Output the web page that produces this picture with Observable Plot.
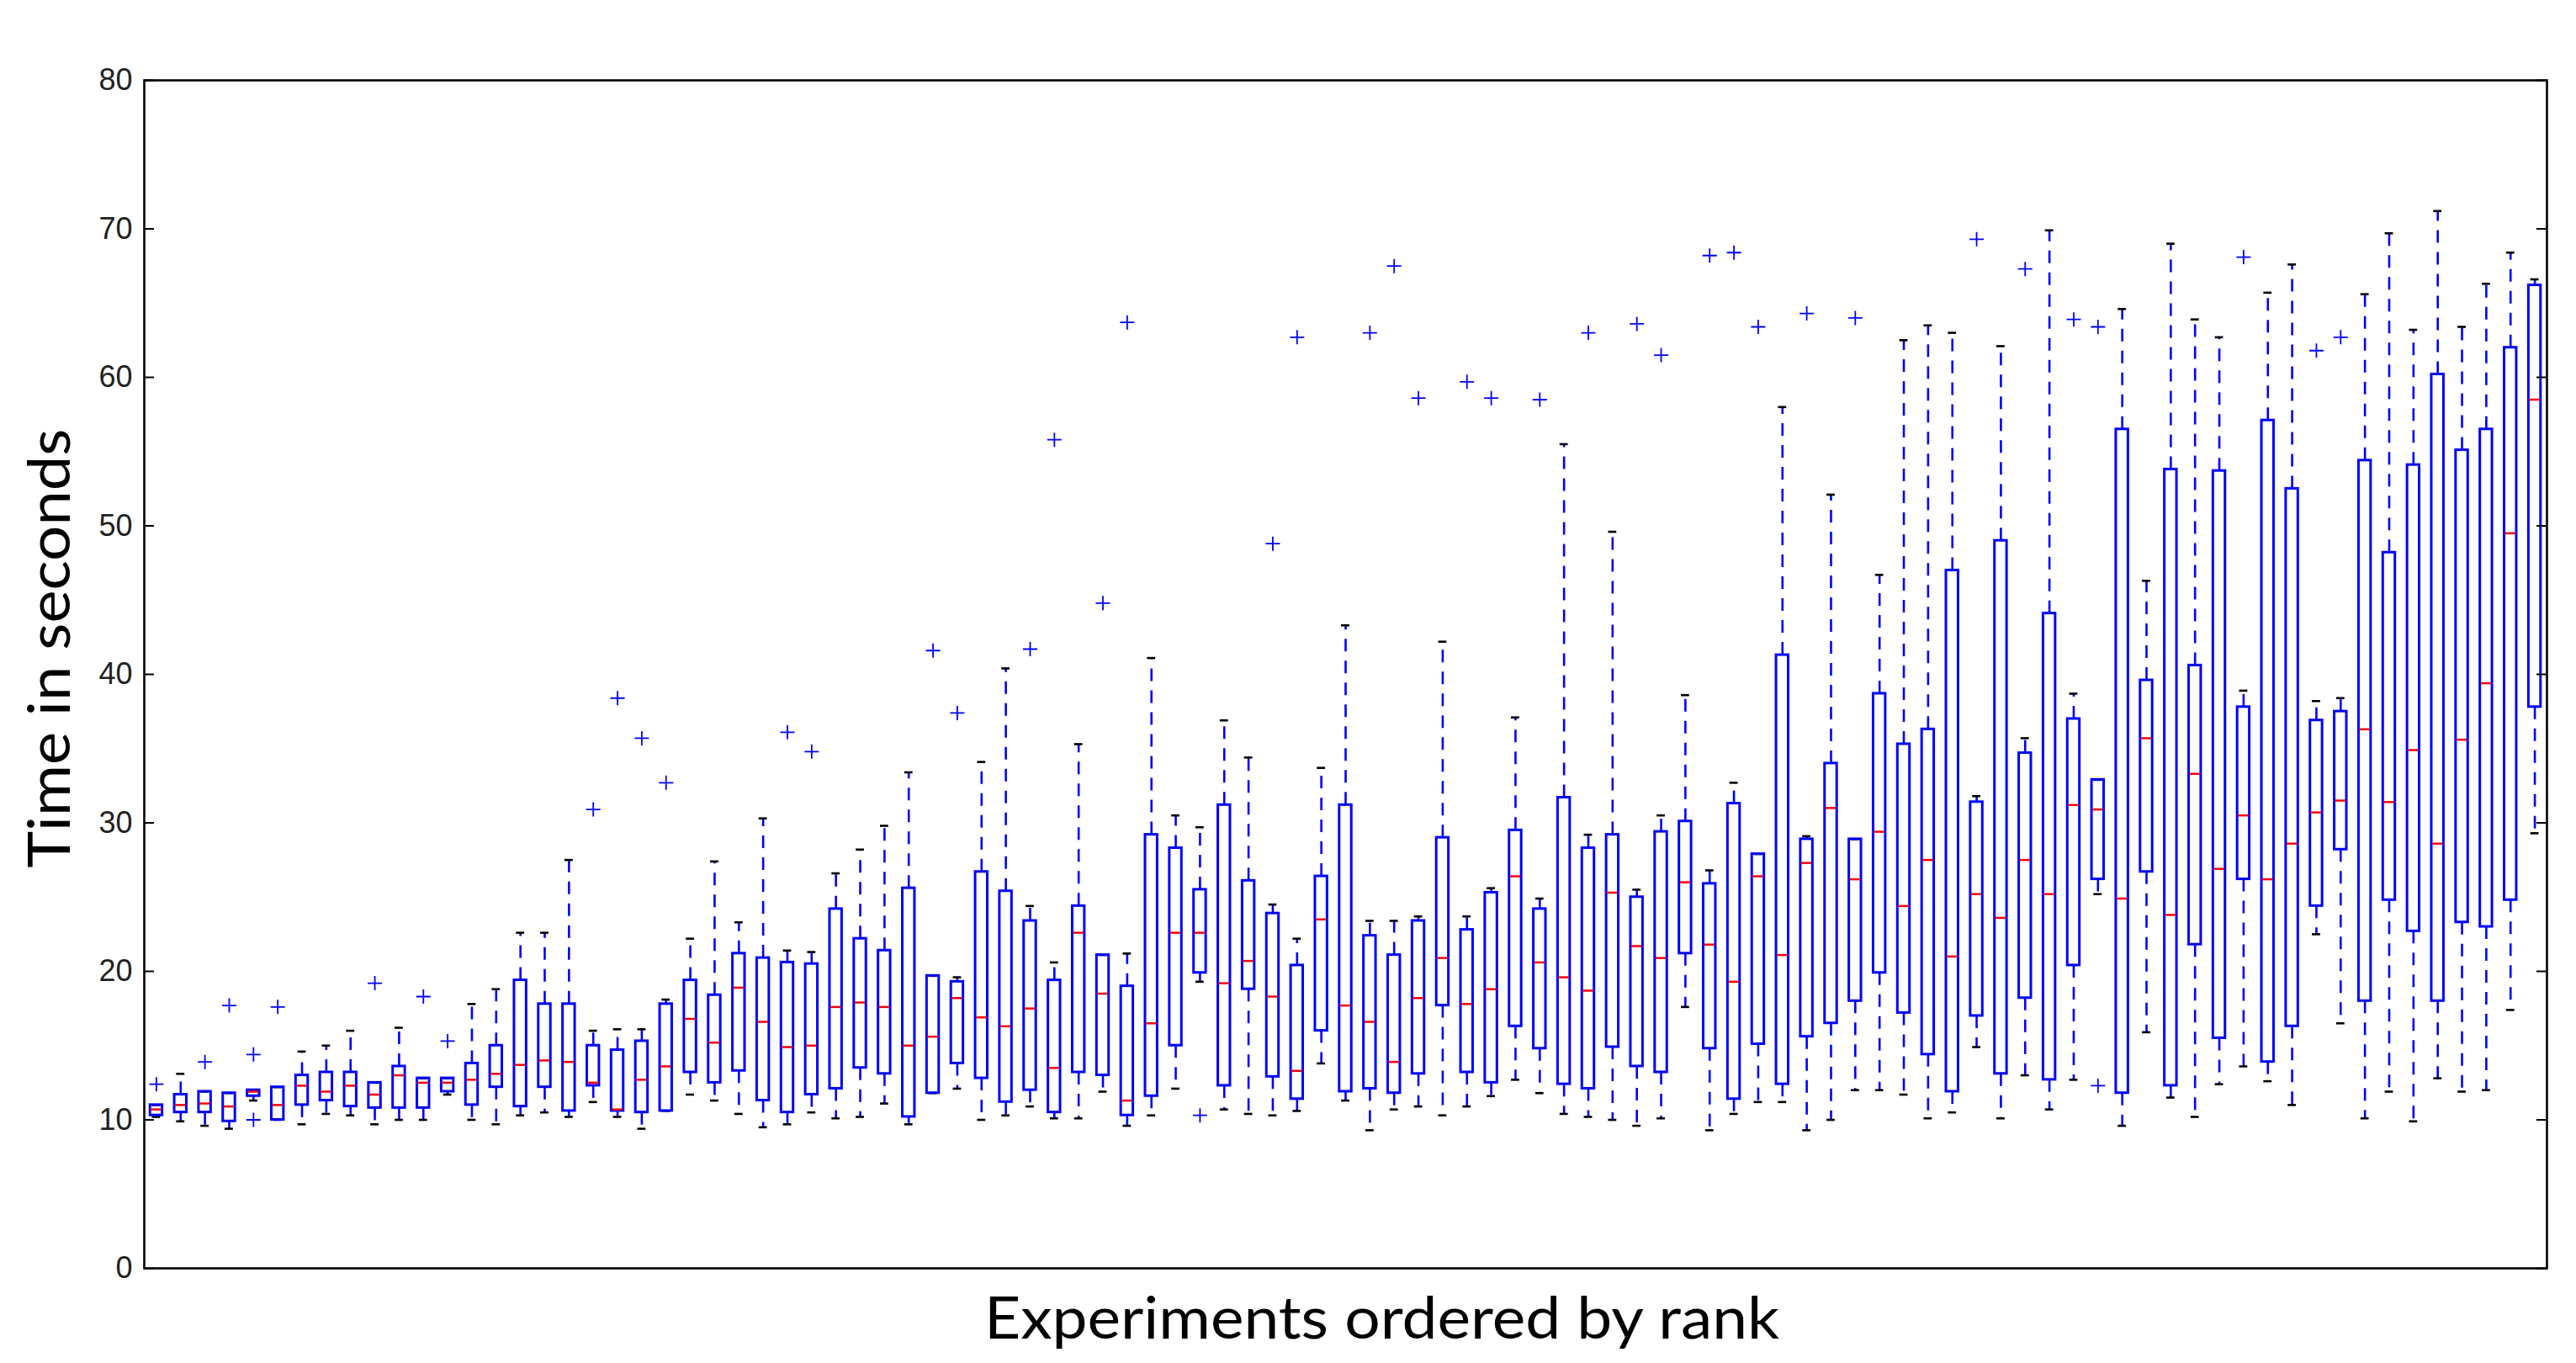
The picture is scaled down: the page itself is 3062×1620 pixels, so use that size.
<!DOCTYPE html>
<html>
<head>
<meta charset="utf-8">
<script src="https://cdn.jsdelivr.net/npm/d3@7"></script>
<script src="https://cdn.jsdelivr.net/npm/@observablehq/plot@0.6"></script>
<style>
html, body { margin: 0; padding: 0; background: #fff; overflow: hidden; }
</style>
</head>
<body>
<div id="chart"></div>
<script>
// Experiments 1..99 ordered by rank: low whisker, Q1, median, Q3, high whisker (seconds)
const lo  = [10.2, 9.9, 9.6, 9.4, 11.3, 10.0, 9.7, 10.4, 10.3, 9.7,
             10.0, 10.0, 11.7, 10.0, 9.7, 10.3, 10.5, 10.2, 11.2, 10.2,
             9.4, 10.6, 11.7, 11.3, 10.4, 9.5, 9.7, 10.5, 10.1, 10.2,
             11.1, 9.7, 11.8, 12.1, 10.0, 10.3, 10.9, 10.1, 10.1, 11.9,
             9.6, 10.3, 12.1, 19.3, 10.7, 10.4, 10.3, 10.6, 13.8, 11.3,
             9.3, 10.7, 10.9, 10.3, 10.9, 11.6, 12.7, 11.8, 10.4, 10.2,
             10.0, 9.6, 10.1, 17.6, 9.3, 10.4, 11.2, 11.2, 9.3, 10.0,
             12.0, 12.0, 11.7, 10.1, 10.5, 14.9, 10.1, 13.0, 10.7, 12.7,
             25.2, 9.6, 15.9, 11.5, 10.2, 12.4, 13.6, 12.6, 11.0, 22.5,
             16.5, 10.1, 11.9, 9.9, 12.8, 11.9, 12.0, 17.4, 29.3];
const q1  = [10.3, 10.5, 10.5, 9.9, 11.6, 10.0, 11.0, 11.3, 10.9, 10.8,
             10.8, 10.8, 11.9, 11.0, 12.2, 10.9, 12.2, 10.6, 12.3, 10.6,
             10.5, 10.6, 13.2, 12.5, 13.3, 11.3, 10.5, 11.7, 12.1, 13.5,
             13.1, 10.2, 11.8, 13.8, 12.8, 11.2, 12.0, 10.5, 13.2, 13.0,
             10.3, 11.6, 15.0, 19.9, 12.3, 18.8, 12.9, 11.4, 16.0, 11.9,
             12.1, 11.8, 13.1, 17.7, 13.2, 12.5, 16.3, 14.8, 12.4, 12.1,
             14.9, 13.6, 13.2, 21.2, 14.8, 11.4, 15.1, 12.4, 15.6, 16.5,
             18.0, 19.9, 17.2, 14.4, 11.9, 17.0, 13.1, 18.2, 12.7, 20.4,
             26.2, 11.8, 26.7, 12.3, 21.8, 15.5, 26.2, 13.9, 16.3, 24.4,
             28.2, 18.0, 24.8, 22.7, 18.0, 23.3, 23.0, 24.8, 37.8];
const med = [10.7, 11.0, 11.1, 10.9, 11.9, 11.0, 12.3, 11.9, 12.3, 11.7,
             13.0, 12.5, 12.5, 12.7, 13.1, 13.7, 14.0, 13.9, 12.5, 10.7,
             12.7, 13.6, 16.8, 15.2, 18.9, 16.6, 14.9, 15.0, 17.6, 17.9,
             17.6, 15.0, 15.6, 18.2, 16.9, 16.3, 17.5, 13.5, 22.6, 18.5,
             11.3, 16.5, 22.6, 22.6, 19.2, 20.7, 18.3, 13.3, 23.5, 17.7,
             16.6, 13.9, 18.2, 20.9, 17.8, 18.8, 26.4, 20.6, 19.6, 18.7,
             25.3, 21.7, 20.9, 26.0, 21.8, 19.3, 26.4, 21.1, 27.3, 31.0,
             26.2, 29.4, 24.4, 27.5, 21.0, 25.2, 23.6, 27.5, 25.2, 31.2,
             30.9, 24.9, 35.7, 23.8, 33.3, 26.9, 30.5, 26.2, 28.6, 30.7,
             31.5, 36.3, 31.4, 34.9, 28.6, 35.6, 39.4, 49.5, 58.5];
const q3  = [11.0, 11.7, 11.9, 11.8, 12.0, 12.2, 13.0, 13.2, 13.2, 12.5,
             13.6, 12.8, 12.8, 13.8, 15.0, 19.4, 17.8, 17.8, 15.0, 14.7,
             15.3, 17.8, 19.4, 18.4, 21.2, 20.9, 20.6, 20.5, 24.2, 22.2,
             21.4, 25.6, 19.7, 19.3, 26.7, 25.4, 23.4, 19.4, 24.4, 21.1,
             19.0, 29.2, 28.3, 25.5, 31.2, 26.1, 23.9, 20.4, 26.4, 31.2,
             22.4, 21.1, 23.4, 29.0, 22.8, 25.3, 29.5, 24.2, 31.7, 28.3,
             29.2, 25.0, 29.4, 30.1, 25.9, 31.3, 27.9, 41.3, 28.9, 34.0,
             28.9, 38.7, 35.3, 36.3, 47.0, 31.4, 49.0, 34.7, 44.1, 37.0,
             32.9, 56.5, 39.6, 53.8, 40.6, 53.7, 37.8, 57.1, 52.5, 36.9,
             37.5, 54.4, 48.2, 54.1, 60.2, 55.1, 56.5, 62.0, 66.2];
const hi  = [11.0, 13.1, 11.9, 11.8, 12.0, 12.2, 14.6, 15.0, 16.0, 12.5,
             16.2, 12.8, 12.8, 17.8, 18.8, 22.6, 22.6, 27.5, 16.0, 16.1,
             16.1, 18.1, 22.2, 27.4, 23.3, 30.3, 21.4, 21.3, 26.6, 28.2,
             29.8, 33.4, 19.7, 19.6, 34.1, 40.4, 24.4, 20.6, 35.3, 21.1,
             21.2, 41.1, 30.5, 29.7, 36.9, 34.4, 24.5, 22.2, 33.7, 43.3,
             23.4, 23.4, 23.7, 42.2, 23.7, 25.6, 37.1, 24.9, 55.5, 29.2,
             49.6, 25.5, 30.5, 38.6, 26.8, 32.7, 27.9, 58.0, 29.1, 52.1,
             28.9, 46.7, 62.5, 63.5, 63.0, 31.8, 62.1, 35.7, 69.9, 38.7,
             32.9, 64.6, 46.3, 69.0, 63.9, 62.7, 38.9, 65.7, 67.6, 38.2,
             38.4, 65.6, 69.7, 63.2, 71.2, 63.4, 66.3, 68.4, 66.6];

// Outliers ("+" markers): experiment rank and time
const outRank = [1, 3, 4, 5, 5, 6, 10, 12, 13, 19, 20, 21, 22, 27, 28, 33, 34, 37, 38, 40,
                 41, 44, 47, 48, 51, 52, 53, 55, 56, 58, 60, 62, 63, 65, 66, 67, 69, 71, 76, 78,
                 80, 81, 81, 87, 90, 91];
const outTime = [12.4, 13.9, 17.7, 14.4, 10.0, 17.6, 19.2, 18.3, 15.3, 30.9, 38.4, 35.7, 32.7, 36.1, 34.8, 41.6, 37.4, 41.7, 55.8, 44.8,
                 63.7, 10.3, 48.8, 62.7, 63.0, 67.5, 58.6, 59.7, 58.6, 58.5, 63.0, 63.6, 61.5, 68.2, 68.4, 63.4, 64.3, 64.0, 69.3, 67.3,
                 63.9, 63.4, 12.3, 68.1, 61.8, 62.7];

const yTicks = [0, 10, 20, 30, 40, 50, 60, 70, 80];
const xLabel = "Experiments ordered by rank";
const yLabel = "Time in seconds";

const boxes = med.map((m, i) => ({rank: i + 1, lo: lo[i], q1: q1[i], med: m, q3: q3[i], hi: hi[i]}));
const outliers = outRank.map((r, i) => ({rank: r, time: outTime[i]}));

const halfBox = 0.25, halfCap = 0.17;
const blue = "#0000ff", red = "#ff0000";
const plusSymbol = {
  draw(ctx, size) {
    const r = Math.sqrt(size / Math.PI);
    ctx.moveTo(-r, 0); ctx.lineTo(r, 0);
    ctx.moveTo(0, -r); ctx.lineTo(0, r);
  }
};

const W = 3062, H = 1620, ML = 171, MR = 35, MT = 95, MB = 113;
const tickLen = 12;
const frameW = W - ML - MR;

const chart = Plot.plot({
  width: W, height: H,
  marginLeft: ML, marginRight: MR, marginTop: MT, marginBottom: MB,
  style: {fontFamily: "Liberation Sans", background: "white", overflow: "visible"},
  x: {domain: [0.5, 99.5], axis: null},
  y: {domain: [0, 80]},
  marks: [
    Plot.ruleX(boxes, {x: "rank", y1: "q3", y2: "hi", stroke: blue, strokeWidth: 2.6, strokeDasharray: "15,11"}),
    Plot.ruleX(boxes, {x: "rank", y1: "q1", y2: "lo", stroke: blue, strokeWidth: 2.6, strokeDasharray: "15,11"}),
    Plot.ruleY(boxes, {y: "hi", x1: d => d.rank - halfCap, x2: d => d.rank + halfCap, stroke: "black", strokeWidth: 2.6}),
    Plot.ruleY(boxes, {y: "lo", x1: d => d.rank - halfCap, x2: d => d.rank + halfCap, stroke: "black", strokeWidth: 2.6}),
    Plot.rect(boxes, {x1: d => d.rank - halfBox, x2: d => d.rank + halfBox, y1: "q1", y2: "q3", fill: "none", stroke: blue, strokeWidth: 3}),
    Plot.ruleY(boxes, {y: "med", x1: d => d.rank - halfBox + 0.04, x2: d => d.rank + halfBox - 0.04, stroke: red, strokeWidth: 2.5}),
    Plot.dot(outliers, {x: "rank", y: "time", symbol: plusSymbol, r: 8.5, stroke: blue, strokeWidth: 1.8, fill: "none"}),
    Plot.tickY(yTicks, {y: d => d, insetRight: frameW - tickLen, stroke: "black", strokeWidth: 2}),
    Plot.tickY(yTicks, {y: d => d, insetLeft: frameW - tickLen, stroke: "black", strokeWidth: 2}),
    Plot.axisY({ticks: yTicks, tickSize: 0, tickPadding: 14, fontSize: 36, label: null, tickFormat: d => String(d), fill: "#222"}),
    Plot.frame({stroke: "black", strokeWidth: 2.6}),
    Plot.text([yLabel], {text: d => d, frameAnchor: "left", textAnchor: "middle", rotate: -90, dx: -89, dy: -31, lineAnchor: "bottom", fontSize: 70, fontFamily: "Lato", fill: "black"}),
    Plot.text([xLabel], {text: d => d, frameAnchor: "bottom", textAnchor: "middle", dx: 43, dy: 83, lineAnchor: "bottom", fontSize: 70, fontFamily: "Lato", fill: "black"})
  ]
});

d3.select(chart).selectAll("text").each(function () {
  if (this.textContent === yLabel) {
    this.setAttribute("textLength", 522);
    this.setAttribute("lengthAdjust", "spacingAndGlyphs");
  } else if (this.textContent === xLabel) {
    this.setAttribute("textLength", 945);
    this.setAttribute("lengthAdjust", "spacingAndGlyphs");
  }
});

document.getElementById("chart").appendChild(chart);
</script>
</body>
</html>
